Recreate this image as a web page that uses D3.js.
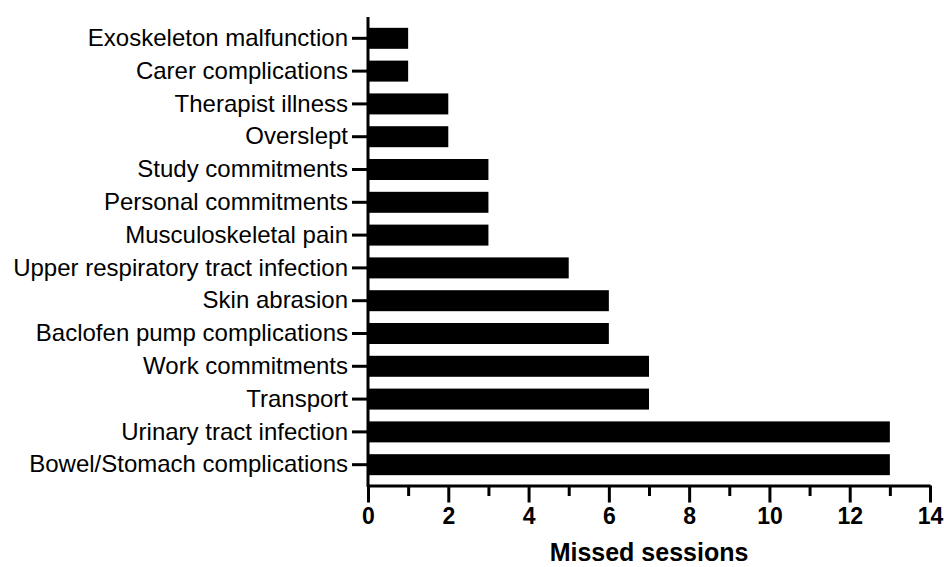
<!DOCTYPE html>
<html>
<head>
<meta charset="utf-8">
<script src="https://cdn.jsdelivr.net/npm/d3@7"></script>
<style>
  body { margin: 0; background: #fff; }
  svg { display: block; }
</style>
</head>
<body>
<script>
const categories = [
  'Exoskeleton malfunction',
  'Carer complications',
  'Therapist illness',
  'Overslept',
  'Study commitments',
  'Personal commitments',
  'Musculoskeletal pain',
  'Upper respiratory tract infection',
  'Skin abrasion',
  'Baclofen pump complications',
  'Work commitments',
  'Transport',
  'Urinary tract infection',
  'Bowel/Stomach complications'
];
const missed = [1, 1, 2, 2, 3, 3, 3, 5, 6, 6, 7, 7, 13, 13];
const majorTicks = [0, 2, 4, 6, 8, 10, 12, 14];
const minorTicks = [1, 3, 5, 7, 9, 11, 13];

const width = 944;
const height = 567;
const margin = { top: 17, right: 14, bottom: 81, left: 368 };
const axisY = 485.5;
const font = '"Liberation Sans", Arial, Helvetica, sans-serif';

const svg = d3.select('body').append('svg')
  .attr('width', width)
  .attr('height', height);

const x = d3.scaleLinear()
  .domain([0, 14])
  .range([margin.left, width - margin.right]);

const y = d3.scaleBand()
  .domain(categories)
  .range([margin.top, height - margin.bottom])
  .paddingInner(0.36)
  .paddingOuter(0.33);

// bars
svg.append('g')
  .selectAll('rect')
  .data(categories)
  .join('rect')
  .attr('x', x(0))
  .attr('y', d => y(d))
  .attr('width', (d, i) => x(missed[i]) - x(0))
  .attr('height', y.bandwidth())
  .attr('fill', '#000');

// x axis
const xAxisG = svg.append('g')
  .attr('transform', `translate(0,${axisY})`);

xAxisG.call(d3.axisBottom(x)
    .tickValues(majorTicks)
    .tickSize(17)
    .tickPadding(5)
    .tickSizeOuter(0))
  .call(g => g.select('.domain').attr('stroke-width', 3).attr('stroke', '#000'))
  .call(g => g.selectAll('.tick line').attr('stroke-width', 3).attr('stroke', '#000'))
  .call(g => g.selectAll('text')
    .attr('fill', '#000')
    .style('font-family', font)
    .style('font-size', '23px')
    .style('font-weight', 'bold'));

xAxisG.append('g')
  .selectAll('line')
  .data(minorTicks)
  .join('line')
  .attr('x1', d => x(d) + 0.5)
  .attr('x2', d => x(d) + 0.5)
  .attr('y1', 0)
  .attr('y2', 10.5)
  .attr('stroke', '#000')
  .attr('stroke-width', 3);

// y axis
svg.append('g')
  .attr('transform', `translate(${margin.left},0)`)
  .call(d3.axisLeft(y)
    .tickSize(16)
    .tickPadding(4)
    .tickSizeOuter(0))
  .call(g => g.select('.domain').attr('stroke-width', 3).attr('stroke', '#000')
    .attr('d', `M0,${margin.top}V${axisY + 1.5}`))
  .call(g => g.selectAll('.tick line').attr('stroke-width', 3).attr('stroke', '#000'))
  .call(g => g.selectAll('text')
    .attr('fill', '#000')
    .style('font-family', font)
    .style('font-size', '24px'));

// axis title
svg.append('text')
  .attr('x', (x(0) + x(14)) / 2)
  .attr('y', 561)
  .attr('text-anchor', 'middle')
  .attr('fill', '#000')
  .style('font-family', font)
  .style('font-size', '25px')
  .style('font-weight', 'bold')
  .text('Missed sessions');
</script>
</body>
</html>
